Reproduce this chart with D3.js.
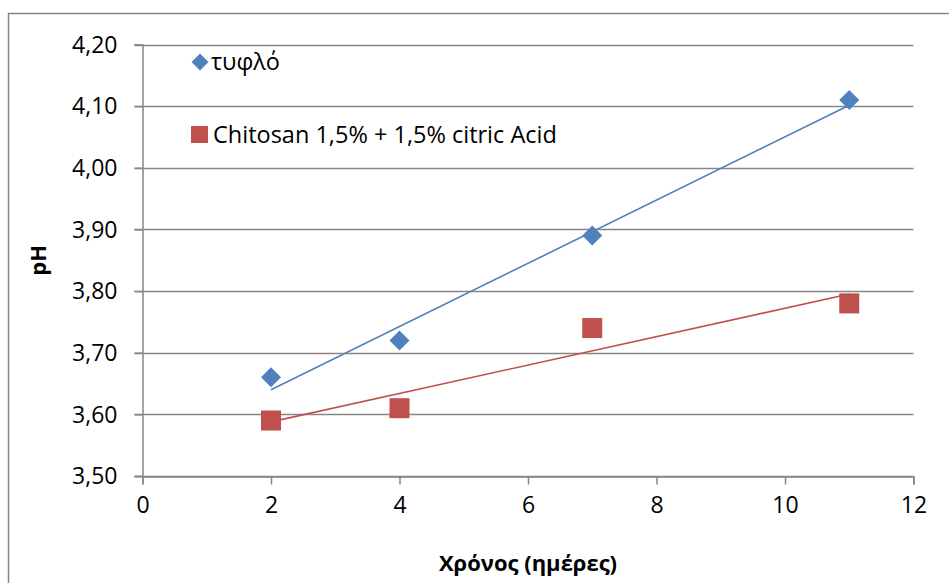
<!DOCTYPE html>
<html>
<head>
<meta charset="utf-8">
<script src="https://cdn.jsdelivr.net/npm/d3@7"></script>
<style>
  body { margin: 0; background: #fff; }
  svg text { font-family: "Open Sans", "Noto Sans", sans-serif; fill: #000; }
</style>
</head>
<body>
<svg id="chart" width="949" height="583"></svg>
<script>
// data
var days = [2, 4, 7, 11];
var blankPH = [3.66, 3.72, 3.89, 4.11];
var chitosanPH = [3.59, 3.61, 3.74, 3.78];
var xTicks = [0, 2, 4, 6, 8, 10, 12];
var yTicks = [3.5, 3.6, 3.7, 3.8, 3.9, 4.0, 4.1, 4.2];
var seriesNames = ["τυφλό", "Chitosan 1,5% + 1,5% citric Acid"];
var seriesColors = ["#4F81BD", "#C0504D"];

var svg = d3.select("#chart");
var plotLeft = 142.5, plotRight = 913.5, plotTop = 44.5, plotBottom = 476;

var x = d3.scaleLinear().domain([0, 12]).range([plotLeft, plotRight]);
var y = d3.scaleLinear().domain([3.5, 4.2]).range([plotBottom, plotTop]);
var fmt = function (d) { return d3.format(".2f")(d).replace(".", ","); };

// outer chart border (clipped by window)
svg.append("rect")
  .attr("x", 8.5).attr("y", 13.5)
  .attr("width", 960).attr("height", 600)
  .attr("fill", "none").attr("stroke", "#868686").attr("stroke-width", 1.5);

// horizontal gridlines
svg.append("g").selectAll("line")
  .data(yTicks)
  .enter().append("line")
  .attr("x1", plotLeft - 8).attr("x2", plotRight)
  .attr("y1", function (d) { return Math.round(y(d)) + 0.5; })
  .attr("y2", function (d) { return Math.round(y(d)) + 0.5; })
  .attr("stroke", "#868686").attr("stroke-width", 1.5);

// y axis
var yAxis = svg.append("g")
  .attr("transform", "translate(" + plotLeft + ",0)")
  .call(d3.axisLeft(y).tickValues(yTicks).tickFormat(fmt).tickSize(8).tickPadding(17));
yAxis.select(".domain").attr("stroke", "#868686").attr("stroke-width", 1.5);
yAxis.selectAll(".tick line").attr("stroke", "#868686").attr("stroke-width", 1.5);
yAxis.selectAll("text").attr("font-size", 23).attr("dy", "0.34em");

// x axis
var xAxis = svg.append("g")
  .attr("transform", "translate(0," + (Math.round(plotBottom) + 0.5) + ")")
  .call(d3.axisBottom(x).tickValues(xTicks).tickSize(8).tickPadding(12));
xAxis.select(".domain").attr("stroke", "#868686").attr("stroke-width", 1.5);
xAxis.selectAll(".tick line").attr("stroke", "#868686").attr("stroke-width", 1.5);
xAxis.selectAll("text").attr("font-size", 23);

// axis titles
svg.append("text")
  .attr("transform", "translate(46," + ((plotTop + plotBottom) / 2) + ") rotate(-90)")
  .attr("text-anchor", "middle")
  .attr("font-size", 22).attr("font-weight", "bold")
  .text("pH");
svg.append("text")
  .attr("x", (plotLeft + plotRight) / 2).attr("y", 571)
  .attr("text-anchor", "middle")
  .attr("font-size", 22).attr("font-weight", "bold")
  .text("Χρόνος (ημέρες)");

// linear trend lines (least squares fit of each series)
function fit(xs, ys) {
  var mx = d3.mean(xs), my = d3.mean(ys);
  var sxy = d3.sum(xs, function (v, i) { return (v - mx) * (ys[i] - my); });
  var sxx = d3.sum(xs, function (v) { return (v - mx) * (v - mx); });
  var b = sxy / sxx;
  return function (v) { return my + b * (v - mx); };
}
[blankPH, chitosanPH].forEach(function (ys, i) {
  var f = fit(days, ys);
  var x0 = d3.min(days), x1 = d3.max(days);
  svg.append("line")
    .attr("x1", x(x0)).attr("y1", y(f(x0)))
    .attr("x2", x(x1)).attr("y2", y(f(x1)))
    .attr("stroke", seriesColors[i]).attr("stroke-width", 1.6);
});

// markers
var diamond = d3.symbol().type(d3.symbolSquare).size(200);
svg.append("g").selectAll("path")
  .data(days)
  .enter().append("path")
  .attr("d", diamond)
  .attr("transform", function (d, i) { return "translate(" + x(d) + "," + y(blankPH[i]) + ") rotate(45)"; })
  .attr("fill", seriesColors[0]);

svg.append("g").selectAll("rect")
  .data(days)
  .enter().append("rect")
  .attr("x", function (d) { return x(d) - 10; })
  .attr("y", function (d, i) { return y(chitosanPH[i]) - 10; })
  .attr("width", 20).attr("height", 20)
  .attr("fill", seriesColors[1]);

// legend
var legend = svg.append("g");
legend.append("path")
  .attr("d", d3.symbol().type(d3.symbolSquare).size(145))
  .attr("transform", "translate(200,62) rotate(45)")
  .attr("fill", seriesColors[0]);
legend.append("text")
  .attr("x", 211).attr("y", 62).attr("dy", "0.35em")
  .attr("font-size", 23.5).text(seriesNames[0]);
legend.append("rect")
  .attr("x", 191).attr("y", 126).attr("width", 17).attr("height", 17)
  .attr("fill", seriesColors[1]);
legend.append("text")
  .attr("x", 213).attr("y", 134.5).attr("dy", "0.35em")
  .attr("font-size", 23.5).text(seriesNames[1]);
</script>
</body>
</html>
